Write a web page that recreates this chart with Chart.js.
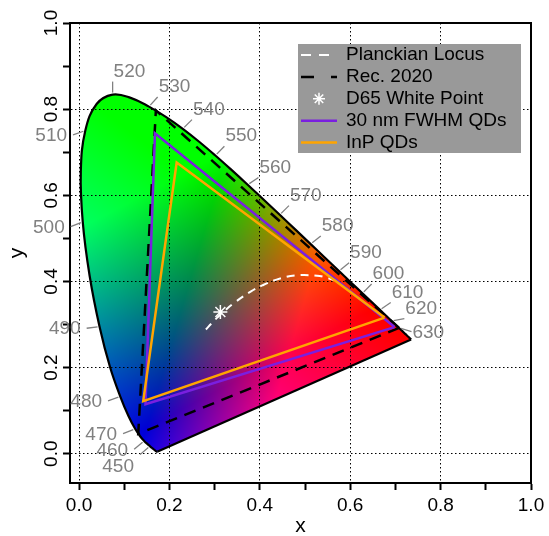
<!DOCTYPE html>
<html>
<head>
<meta charset="utf-8">
<script src="https://cdn.jsdelivr.net/npm/chart.js@4.4.0/dist/chart.umd.min.js"></script>
<style>
  html, body { margin: 0; padding: 0; background: #fff; }
  #wrap { width: 549px; height: 536px; }
</style>
</head>
<body>
<div id="wrap"><canvas id="cie"></canvas></div>
<script>
// ── Spectral locus (CIE 1931 2°, 5 nm steps) ─────────
const WL = [380,385,390,395,400,405,410,415,420,425,430,435,440,445,450,455,460,465,470,475,
            480,485,490,495,500,505,510,515,520,525,530,535,540,545,550,555,560,565,570,575,
            580,585,590,595,600,605,610,615,620,625,630,635,640,645,650,655,660,665,670,675,
            680,685,690,695,700];
const LOCUS_X = [0.1741,0.1740,0.1738,0.1736,0.1733,0.1730,0.1726,0.1721,0.1714,0.1703,0.1689,0.1669,0.1644,0.1611,0.1566,0.1510,0.1440,0.1355,0.1241,0.1096,
                 0.0913,0.0687,0.0454,0.0235,0.0082,0.0039,0.0139,0.0389,0.0743,0.1142,0.1547,0.1929,0.2296,0.2658,0.3016,0.3373,0.3731,0.4087,0.4441,0.4788,
                 0.5125,0.5448,0.5752,0.6029,0.6270,0.6482,0.6658,0.6801,0.6915,0.7006,0.7079,0.7140,0.7190,0.7230,0.7260,0.7283,0.7300,0.7311,0.7320,0.7327,
                 0.7334,0.7340,0.7344,0.7346,0.7347];
const LOCUS_Y = [0.0050,0.0050,0.0049,0.0049,0.0048,0.0048,0.0048,0.0048,0.0051,0.0058,0.0069,0.0086,0.0109,0.0138,0.0177,0.0227,0.0297,0.0399,0.0578,0.0868,
                 0.1327,0.2007,0.2950,0.4127,0.5384,0.6548,0.7502,0.8120,0.8338,0.8262,0.8059,0.7816,0.7543,0.7243,0.6923,0.6589,0.6245,0.5896,0.5547,0.5202,
                 0.4866,0.4544,0.4242,0.3965,0.3725,0.3514,0.3340,0.3197,0.3083,0.2993,0.2920,0.2859,0.2809,0.2770,0.2740,0.2717,0.2700,0.2689,0.2680,0.2673,
                 0.2666,0.2660,0.2656,0.2654,0.2653];
const LABEL_WL = [450,460,470,480,490,500,510,520,530,540,550,560,570,580,590,600,610,620,630];

// ── Planckian locus, 10000 K → 1667 K ────────────────
const PLANCK_X = [0.2807,0.2952,0.3064,0.3221,0.3451,0.3805,0.4053,0.4369,0.4770,0.5267,0.5496,0.5646];
const PLANCK_Y = [0.2884,0.3048,0.3166,0.3318,0.3516,0.3768,0.3907,0.4041,0.4137,0.4133,0.4081,0.4029];

// ── Gamut triangles (R, G, B primaries) ──────────────
const REC2020_X = [0.708, 0.170, 0.131];
const REC2020_Y = [0.292, 0.797, 0.046];
const QD30_X = [0.698, 0.168, 0.147];
const QD30_Y = [0.294, 0.744, 0.115];
const INP_X = [0.676, 0.216, 0.142];
const INP_Y = [0.316, 0.676, 0.122];
const D65 = [0.3127, 0.3290];

const AXIS_FONT = "'Liberation Sans', Arial, sans-serif";
Chart.defaults.font.family = AXIS_FONT;
Chart.defaults.color = '#000';

const pts = (xs, ys) => xs.map((v, i) => ({ x: v, y: ys[i] }));
const closed = (xs, ys) => { const p = pts(xs, ys); return p.concat([p[0]]); };
const even = v => Math.round(v * 10) % 2 === 0;
const LOCUS_IDX = 6;   // dataset index of the smooth spectral curve

function xyToRgb(x, y) {
  const z = 1 - x - y;
  const r =  3.2406 * x - 1.5372 * y - 0.4986 * z;
  const g = -0.9689 * x + 1.8758 * y + 0.0415 * z;
  const b =  0.0557 * x - 0.2040 * y + 1.0570 * z;
  return [r, g, b].map(v => Math.round(255 * Math.min(1, Math.max(0, v))));
}

// colour fill of the horseshoe, drawn under the grid
const gamutFill = {
  id: 'gamutFill',
  beforeDraw(chart) {
    const { ctx, chartArea: a, scales: { x, y } } = chart;
    const w = Math.ceil(a.right - a.left), h = Math.ceil(a.bottom - a.top);
    const off = document.createElement('canvas');
    off.width = w; off.height = h;
    const octx = off.getContext('2d');
    const img = octx.createImageData(w, h);
    for (let j = 0; j < h; j++) {
      const cy = y.getValueForPixel(a.top + j + 0.5);
      for (let i = 0; i < w; i++) {
        const cx = x.getValueForPixel(a.left + i + 0.5);
        const c = xyToRgb(cx, cy);
        const k = (j * w + i) * 4;
        img.data[k] = c[0]; img.data[k + 1] = c[1]; img.data[k + 2] = c[2]; img.data[k + 3] = 255;
      }
    }
    octx.putImageData(img, 0, 0);

    const line = chart.getDatasetMeta(LOCUS_IDX).dataset;
    line.updateControlPoints(a, 'x');
    ctx.save();
    ctx.beginPath();
    line.path(ctx);
    ctx.closePath();
    ctx.clip();
    ctx.drawImage(off, a.left, a.top);
    ctx.restore();
  }
};

// wavelength labels round the locus
const WL_TICK_DEG = { 450: 139, 460: 140, 470: 158, 480: 161, 490: 173, 500: 158, 510: 161, 520: -90,
  530: -48, 540: -45, 550: -46, 560: -34, 570: -45, 580: -39, 590: -39, 600: -45, 610: -34, 620: -10, 630: 16 };
const WL_TEXT_DY = { 450: 11, 630: 11 };

const wlLabels = {
  id: 'wlLabels',
  afterDatasetsDraw(chart) {
    const { ctx, scales: { x, y } } = chart;
    ctx.save();
    ctx.strokeStyle = '#808080';
    ctx.fillStyle = '#808080';
    ctx.lineWidth = 1.3;
    ctx.font = '19px ' + AXIS_FONT;
    ctx.textBaseline = 'middle';
    LABEL_WL.forEach(wl => {
      const i = WL.indexOf(wl);
      const px = x.getPixelForValue(LOCUS_X[i]), py = y.getPixelForValue(LOCUS_Y[i]);
      const ang = WL_TICK_DEG[wl] * Math.PI / 180;
      const dx = Math.cos(ang), dy = Math.sin(ang);
      const ex = px + dx * 13, ey = py + dy * 13;
      ctx.beginPath();
      ctx.moveTo(px + dx * 2, py + dy * 2);
      ctx.lineTo(ex, ey);
      ctx.stroke();
      const extra = WL_TEXT_DY[wl] || 0;
      if (dx < -0.1) {
        ctx.textAlign = 'right';
        ctx.fillText(String(wl), ex - 6, ey + 1 + extra);
      } else {
        ctx.textAlign = 'left';
        ctx.fillText(String(wl), ex + 1, ey - 10 + extra);
      }
    });
    ctx.restore();
  }
};

// closes the box and draws the grey legend
const frameAndLegend = {
  id: 'frameAndLegend',
  afterDraw(chart) {
    const { ctx, chartArea: a } = chart;
    ctx.save();
    ctx.strokeStyle = '#000';
    ctx.lineWidth = 2;
    ctx.beginPath();
    ctx.moveTo(a.left, a.top); ctx.lineTo(a.right, a.top); ctx.lineTo(a.right, a.bottom);
    ctx.stroke();

    const bx = a.right - 233, by = a.top + 21, bw = 223, bh = 109;
    ctx.fillStyle = '#999999';
    ctx.fillRect(bx, by, bw, bh);
    const items = [
      { text: 'Planckian Locus', color: '#fff', dash: [10, 8], width: 2 },
      { text: 'Rec. 2020', color: '#000', dash: [13, 17], width: 2.5 },
      { text: 'D65 White Point', star: true },
      { text: '30 nm FWHM QDs', color: '#7a1fe0', dash: [], width: 2.5 },
      { text: 'InP QDs', color: '#ffa500', dash: [], width: 2.5 }
    ];
    ctx.font = '19px ' + AXIS_FONT;
    ctx.textBaseline = 'middle';
    ctx.textAlign = 'left';
    items.forEach((it, k) => {
      const cy = by + 11 + k * 21.9;
      if (it.star) {
        ctx.strokeStyle = '#fff';
        ctx.lineWidth = 1.5;
        ctx.setLineDash([]);
        ctx.beginPath();
        for (let q = 0; q < 4; q++) {
          const t = q * Math.PI / 4;
          ctx.moveTo(bx + 21 - Math.cos(t) * 6, cy - Math.sin(t) * 6);
          ctx.lineTo(bx + 21 + Math.cos(t) * 6, cy + Math.sin(t) * 6);
        }
        ctx.stroke();
      } else {
        ctx.strokeStyle = it.color;
        ctx.lineWidth = it.width;
        ctx.setLineDash(it.dash);
        ctx.beginPath();
        ctx.moveTo(bx + 3, cy); ctx.lineTo(bx + 39, cy);
        ctx.stroke();
      }
      ctx.setLineDash([]);
      ctx.fillStyle = '#000';
      ctx.fillText(it.text, bx + 48, cy);
    });
    ctx.restore();
  }
};

const axisCommon = {
  type: 'linear',
  max: 1.0,
  border: { display: true, color: '#000', width: 2, dash: [1.5, 2.5] },
  grid: {
    color: c => (c.tick && even(c.tick.value) ? '#000' : 'rgba(0,0,0,0)'),
    lineWidth: 1,
    tickColor: '#000',
    tickLength: 7,
    tickWidth: 2,
    drawTicks: true
  }
};

const nLocus = WL.length - 1;

new Chart(document.getElementById('cie'), {
  type: 'scatter',
  data: {
    datasets: [
      { label: 'D65 White Point', data: [{ x: D65[0], y: D65[1] }], showLine: false,
        pointStyle: 'star', pointRadius: 7, borderColor: '#fff', borderWidth: 1.5, backgroundColor: '#fff' },
      { label: 'InP QDs', data: closed(INP_X, INP_Y), showLine: true, borderColor: '#ffa500',
        borderWidth: 2.5, pointRadius: 0, borderJoinStyle: 'miter' },
      { label: '30 nm FWHM QDs', data: closed(QD30_X, QD30_Y), showLine: true, borderColor: '#7a1fe0',
        borderWidth: 2.5, pointRadius: 0, borderJoinStyle: 'miter' },
      { label: 'Rec. 2020', data: closed(REC2020_X, REC2020_Y), showLine: true, borderColor: '#000',
        borderWidth: 2.5, borderDash: [12, 8], pointRadius: 0 },
      { label: 'Planckian Locus', data: pts(PLANCK_X, PLANCK_Y), showLine: true, borderColor: '#fff',
        borderWidth: 2, borderDash: [8, 6], pointRadius: 0, tension: 0.4 },
      { label: 'Line of purples', data: [{ x: LOCUS_X[nLocus], y: LOCUS_Y[nLocus] }, { x: LOCUS_X[0], y: LOCUS_Y[0] }],
        showLine: true, borderColor: '#000', borderWidth: 2.2, pointRadius: 0 },
      { label: 'Spectral locus', data: pts(LOCUS_X, LOCUS_Y), showLine: true, borderColor: '#000',
        borderWidth: 2.2, pointRadius: 0, tension: 0.4, borderJoinStyle: 'round' }
    ]
  },
  options: {
    responsive: true,
    maintainAspectRatio: false,
    animation: false,
    events: [],
    layout: { padding: { top: 23, right: 18, left: 0, bottom: 0 } },
    plugins: { legend: { display: false }, tooltip: { enabled: false } },
    scales: {
      x: {
        ...axisCommon,
        position: 'bottom',
        min: -0.02,
        ticks: { stepSize: 0.1, includeBounds: false, autoSkip: false, maxRotation: 0,
                 padding: 4, font: { size: 19 }, color: '#000',
                 callback: v => (even(v) ? v.toFixed(1) : '') },
        title: { display: true, text: 'x', font: { size: 21 }, color: '#000', padding: { top: 0, bottom: -3 } },
        afterFit: s => { s.height = 53; }
      },
      y: {
        ...axisCommon,
        position: 'left',
        min: -0.068,
        ticks: { stepSize: 0.1, includeBounds: false, autoSkip: false, minRotation: 90, maxRotation: 90,
                 crossAlign: 'center', padding: -2, font: { size: 19 }, color: '#000',
                 callback: v => (even(v) ? v.toFixed(1) : '') },
        title: { display: true, text: 'y', font: { size: 21 }, color: '#000', padding: { top: 5, bottom: 0 } },
        afterFit: s => { s.width = 70; }
      }
    }
  },
  plugins: [gamutFill, wlLabels, frameAndLegend]
});
</script>
</body>
</html>
